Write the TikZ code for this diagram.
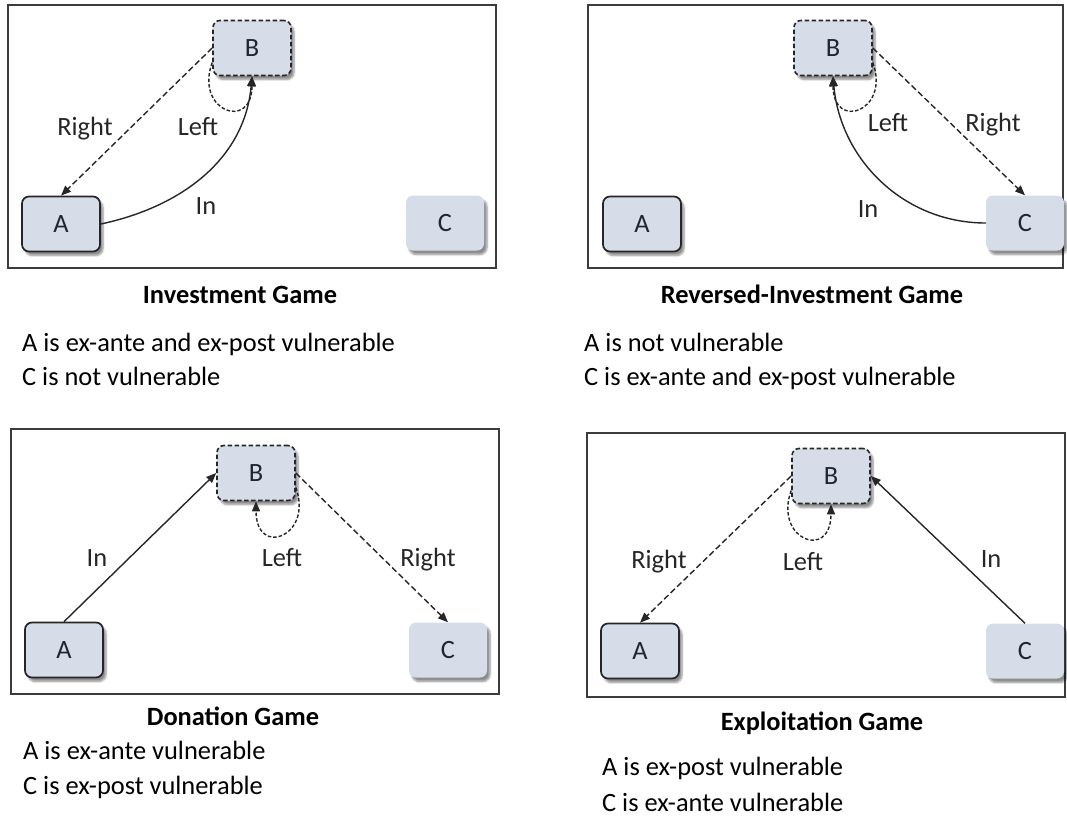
\documentclass[tikz,border=0pt]{standalone}
\usepackage{fontspec}
\setmainfont{Carlito}
\usetikzlibrary{arrows.meta,shadows.blur}

\definecolor{boxfill}{HTML}{D6DDE8}
\definecolor{boxink}{HTML}{1E2633}
\definecolor{lineink}{HTML}{262626}

\tikzset{
  player/.style={rounded corners=7pt, fill=boxfill, minimum width=78pt, minimum height=55pt,
    text=boxink, blur shadow={shadow xshift=3pt, shadow yshift=-4pt, shadow blur steps=6, shadow opacity=45}},
  solidbox/.style={player, draw=lineink, line width=1.7pt},
  dashbox/.style={player, draw=lineink, line width=1.6pt, dash pattern=on 4.5pt off 2.5pt},
  plainbox/.style={player},
  frame/.style={draw=lineink!90, line width=1.4pt},
  move/.style={-{Triangle[length=10pt,width=8pt]}, line width=1.4pt, draw=lineink},
  dashmove/.style={move, dash pattern=on 6pt off 3pt},
  loopmove/.style={move, dash pattern=on 3.5pt off 2pt},
  lbl/.style={inner sep=0pt, anchor=base, text=lineink},
  caption/.style={inner sep=0pt, anchor=base, font=\fontsize{26.4}{31}\selectfont\bfseries},
  remark/.style={inner sep=0pt, anchor=base west},
}

\begin{document}
\begin{tikzpicture}[x=1pt, y=1pt, every node/.style={font=\fontsize{26.4}{31}\selectfont}]
\useasboundingbox (0,0) rectangle (1067,-830);

% Investment Game
\draw[frame] (8,-5) rectangle (496,-268);
\node[solidbox] (A1) at (61,-224) {A};
\node[dashbox] (B1) at (252,-48) {B};
\node[plainbox] (C1) at (445,-223) {C};
\draw[dashmove] (B1.west) -- (A1.north);
\draw[loopmove] (B1.200) .. controls +(250:52) and +(270:55) .. (B1.south);
\draw[move] (A1.east) to[out=12, in=265] (B1.south);
\node[lbl] (r1) at (85,-135.5) {Right};
\node[lbl] (l1) at (198,-135.5) {Left};
\node[lbl] (i1) at (206,-214.5) {In};

% Reversed-Investment Game
\draw[frame] (588,-5) rectangle (1063,-268);
\node[solidbox] (A2) at (642,-224) {A};
\node[dashbox] (B2) at (833,-48) {B};
\node[plainbox] (C2) at (1025,-223) {C};
\draw[dashmove] (B2.east) -- (C2.north);
\draw[loopmove] (B2.-20) .. controls +(-70:52) and +(270:55) .. (B2.south);
\draw[move] (C2.west) to[out=180, in=275] (B2.south);
\node[lbl] (l2) at (888,-131.5) {Left};
\node[lbl] (r2) at (993,-131.5) {Right};
\node[lbl] (i2) at (868,-217.5) {In};

% Donation Game
\draw[frame] (11,-429) rectangle (499,-694);
\node[solidbox] (A3) at (64,-650) {A};
\node[dashbox] (B3) at (256,-473) {B};
\node[plainbox] (C3) at (448,-650) {C};
\draw[move] (A3.north) -- (B3.west);
\draw[dashmove] (B3.east) -- (C3.north);
\draw[loopmove] (B3.-20) .. controls +(-70:52) and +(270:57) .. (B3.south);
\node[lbl] (i3) at (97,-566.5) {In};
\node[lbl] (l3) at (282,-566.5) {Left};
\node[lbl] (r3) at (428,-566.5) {Right};

% Exploitation Game
\draw[frame] (587,-433) rectangle (1065,-697);
\node[solidbox] (A4) at (640,-651) {A};
\node[dashbox] (B4) at (831,-476) {B};
\node[plainbox] (C4) at (1025,-651) {C};
\draw[move] (C4.north) -- (B4.east);
\draw[dashmove] (B4.west) -- (A4.north);
\draw[loopmove] (B4.200) .. controls +(250:52) and +(270:57) .. (B4.south);
\node[lbl] (r4) at (659,-568.5) {Right};
\node[lbl] (l4) at (803,-570.5) {Left};
\node[lbl] (i4) at (991,-567.5) {In};

% captions and remarks
\node[caption] (g1) at (240,-303.5) {Investment Game};
\node[remark] (a1) at (22,-351.5) {A is ex-ante and ex-post vulnerable};
\node[remark] (c1) at (22,-385.5) {C is not vulnerable};
\node[caption] (g2) at (812,-303.5) {Reversed-Investment Game};
\node[remark] (a2) at (584,-351.5) {A is not vulnerable};
\node[remark] (c2) at (584,-385.5) {C is ex-ante and ex-post vulnerable};
\node[caption] (g3) at (233,-725.5) {Donation Game};
\node[remark] (a3) at (23,-759.5) {A is ex-ante vulnerable};
\node[remark] (c3) at (23,-794.5) {C is ex-post vulnerable};
\node[caption] (g4) at (822,-730.5) {Exploitation Game};
\node[remark] (a4) at (602,-775.5) {A is ex-post vulnerable};
\node[remark] (c4) at (602,-811.5) {C is ex-ante vulnerable};
\end{tikzpicture}
\end{document}
